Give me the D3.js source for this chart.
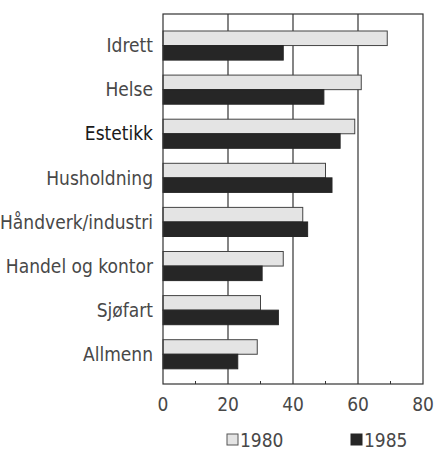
<!DOCTYPE html>
<head>
  <meta charset="utf-8">
  <script src="https://d3js.org/d3.v7.min.js"></script>
  <style>
    body { margin:0; background:#fff; }
    text { font-family: "Liberation Sans Narrow", "DejaVu Sans Condensed", "Liberation Sans", sans-serif; fill:#484848; }
  </style>
</head>
<body>
  <svg id="svgelem" width="434" height="454"></svg>
  <script>
    var categories = ["Idrett", "Helse", "Estetikk", "Husholdning", "Håndverk/industri", "Handel og kontor", "Sjøfart", "Allmenn"];
    var values1980 = [69, 61, 59, 50, 43, 37, 30, 29];
    var values1985 = [37, 49.5, 54.5, 52, 44.5, 30.5, 35.5, 23];
    var tickValues = [0, 20, 40, 60, 80];
    var minorTicks = [10, 30, 50, 70];
    var seriesNames = ["1980", "1985"];

    var svg = d3.select("#svgelem");
    var plotLeft = 163, plotRight = 423, plotTop = 14, plotBottom = 384;

    var x = d3.scaleLinear().domain([0, 80]).range([plotLeft, plotRight]);
    var y = d3.scaleBand().domain(categories).range([23.5, 376.3]).paddingInner(0.34).paddingOuter(0.17);
    var sub = d3.scaleBand().domain(seriesNames).range([0, y.bandwidth()]);

    // grid lines
    svg.append("g").selectAll("line").data(tickValues.slice(1, 4)).enter().append("line")
      .attr("x1", function(d){ return x(d); }).attr("x2", function(d){ return x(d); })
      .attr("y1", plotTop).attr("y2", plotBottom)
      .attr("stroke", "#333").attr("stroke-width", 1.2);

    // minor ticks at bottom
    svg.append("g").selectAll("line").data(minorTicks).enter().append("line")
      .attr("x1", function(d){ return x(d); }).attr("x2", function(d){ return x(d); })
      .attr("y1", plotBottom - 3).attr("y2", plotBottom)
      .attr("stroke", "#333");

    var rows = svg.append("g").selectAll("g").data(categories).enter().append("g");

    rows.append("rect")
      .attr("x", x(0))
      .attr("y", function(d){ return y(d) + sub("1980"); })
      .attr("width", function(d, i){ return x(values1980[i]) - x(0); })
      .attr("height", sub.bandwidth())
      .attr("fill", "#e4e4e4").attr("stroke", "#444").attr("stroke-width", 1);

    rows.append("rect")
      .attr("x", x(0))
      .attr("y", function(d){ return y(d) + sub("1985"); })
      .attr("width", function(d, i){ return x(values1985[i]) - x(0); })
      .attr("height", sub.bandwidth())
      .attr("fill", "#262626").attr("stroke", "#262626");

    // frame
    svg.append("rect").attr("x", plotLeft).attr("y", plotTop)
      .attr("width", plotRight - plotLeft).attr("height", plotBottom - plotTop)
      .attr("fill", "none").attr("stroke", "#333").attr("stroke-width", 1.2);

    // category labels
    rows.append("text")
      .attr("x", plotLeft - 10)
      .attr("y", function(d){ return y(d) + y.bandwidth() / 2; })
      .attr("dy", "0.35em")
      .attr("text-anchor", "end")
      .style("font-size", "19px")
      .style("fill", function(d){ return d === "Estetikk" ? "#1a1a1a" : "#484848"; })
      .text(function(d){ return d; });

    // x tick labels
    svg.append("g").selectAll("text").data(tickValues).enter().append("text")
      .attr("x", function(d){ return x(d); })
      .attr("y", plotBottom + 27)
      .attr("text-anchor", "middle")
      .style("font-size", "19px")
      .text(function(d){ return d; });

    // legend
    var legendX = [227, 351];
    var legend = svg.append("g").selectAll("g").data(seriesNames).enter().append("g")
      .attr("transform", function(d, i){ return "translate(" + legendX[i] + ",434)"; });
    legend.append("rect").attr("width", 11).attr("height", 11)
      .attr("fill", function(d, i){ return i === 0 ? "#e4e4e4" : "#262626"; })
      .attr("stroke", function(d, i){ return i === 0 ? "#555" : "#262626"; });
    legend.append("text").attr("x", 13).attr("y", 6).attr("dy", "0.35em")
      .style("font-size", "19px")
      .text(function(d){ return d; });
  </script>
</body>
